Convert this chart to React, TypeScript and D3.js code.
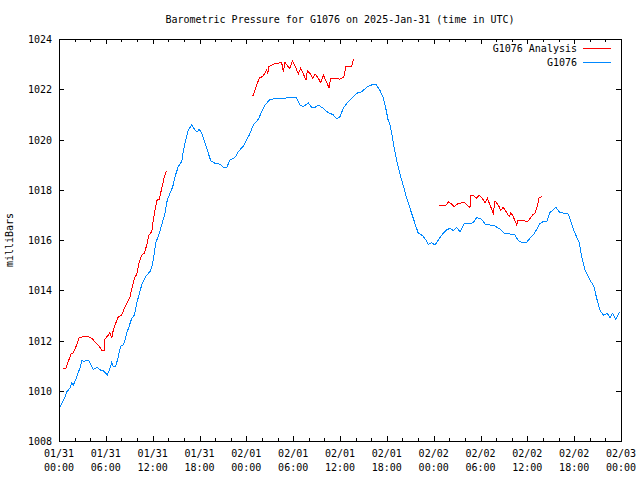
import React from "react";
import * as d3 from "d3";

const title = "Barometric Pressure for G1076 on 2025-Jan-31 (time in UTC)";
const yLabel = "milliBars";
const seriesNames = ["G1076 Analysis", "G1076"];
const xTickDates = ["01/31", "01/31", "01/31", "01/31", "02/01", "02/01", "02/01", "02/01", "02/02", "02/02", "02/02", "02/02", "02/03"];
const xTickTimes = ["00:00", "06:00", "12:00", "18:00", "00:00", "06:00", "12:00", "18:00", "00:00", "06:00", "12:00", "18:00", "00:00"];
const yTicks = [1008, 1010, 1012, 1014, 1016, 1018, 1020, 1022, 1024];

// hours since 2025-01-31 00:00 UTC
const blueHours = [
  0.13, 0.42, 0.77, 0.99, 1.41, 1.63, 1.83, 2.14, 2.4, 2.69, 2.91, 3.24, 3.55, 3.84, 4.19, 4.39, 4.61, 4.96, 5.25, 5.68,
  5.98, 6.19, 6.53, 6.75, 6.96, 7.26, 7.6, 7.9, 8.24, 8.46, 8.67, 8.97, 9.31, 9.65, 9.95, 10.25, 10.59, 10.8, 11.11, 11.44,
  11.66, 11.91, 12.17, 12.43, 12.72, 13.16, 13.58, 13.87, 14.22, 14.57, 14.86, 15.28, 15.72, 15.92, 16.23, 16.56, 17.0, 17.42, 17.68, 17.97,
  18.28, 18.7, 19.13, 19.43, 19.99, 20.63, 21.05, 21.48, 21.91, 22.55, 22.97, 23.61, 24.38, 24.89, 25.53, 25.97, 26.39, 26.94, 27.67, 28.31,
  28.95, 29.59, 30.36, 30.87, 31.3, 31.94, 32.37, 32.8, 33.22, 33.86, 34.3, 34.72, 35.14, 35.58, 36.0, 36.42, 36.86, 37.5, 38.14, 38.78,
  39.42, 40.06, 40.61, 41.12, 41.55, 41.89, 42.15, 42.41, 42.62, 42.92, 43.26, 43.6, 43.9, 44.2, 44.54, 44.97, 45.39, 45.74, 46.03, 46.59,
  47.02, 47.31, 47.75, 48.17, 48.59, 49.23, 49.67, 50.09, 50.51, 50.95, 51.37, 51.88, 52.65, 53.08, 53.51, 54.15, 54.7, 55.22, 55.86, 56.5,
  57.14, 57.78, 58.42, 58.84, 59.28, 59.92, 60.34, 60.76, 61.28, 61.62, 62.04, 62.48, 62.9, 63.67, 64.18, 64.82, 65.25, 65.68, 66.1, 66.66,
  66.96, 67.39, 68.03, 68.54, 68.88, 69.31, 69.73, 70.24, 70.59, 70.93, 71.32, 71.78,
];
const blueValues = [
  1009.37, 1009.52, 1009.76, 1009.96, 1010.1, 1010.32, 1010.23, 1010.43, 1010.69, 1010.89, 1011.2, 1011.16, 1011.22, 1011.2, 1010.96, 1010.83, 1010.89, 1010.93, 1010.83, 1010.8,
  1010.69, 1010.63, 1010.89, 1011.12, 1010.96, 1010.96, 1011.36, 1011.78, 1011.82, 1012.02, 1012.29, 1012.55, 1012.88, 1013.01, 1013.48, 1013.81, 1014.21, 1014.34, 1014.54, 1014.67,
  1014.74, 1014.95, 1015.4, 1015.93, 1016.13, 1016.6, 1017.06, 1017.59, 1017.86, 1018.12, 1018.52, 1018.92, 1019.12, 1019.51, 1019.98, 1020.38, 1020.58, 1020.38, 1020.3, 1020.41,
  1020.25, 1019.85, 1019.45, 1019.16, 1019.05, 1019.02, 1018.89, 1018.89, 1019.18, 1019.29, 1019.51, 1019.74, 1020.18, 1020.58, 1020.8, 1021.11, 1021.37, 1021.57, 1021.64, 1021.64,
  1021.64, 1021.68, 1021.68, 1021.37, 1021.31, 1021.46, 1021.28, 1021.28, 1021.37, 1021.24, 1021.11, 1021.04, 1020.98, 1020.82, 1020.91, 1021.24, 1021.44, 1021.64, 1021.84, 1021.9,
  1022.08, 1022.17, 1022.2, 1021.95, 1021.67, 1021.2, 1020.8, 1020.58, 1020.25, 1019.71, 1019.18, 1018.72, 1018.39, 1018.06, 1017.66, 1017.26, 1016.86, 1016.53, 1016.27, 1016.17,
  1016.0, 1015.83, 1015.89, 1015.8, 1016.0, 1016.27, 1016.4, 1016.47, 1016.37, 1016.5, 1016.33, 1016.64, 1016.64, 1016.69, 1016.9, 1016.82, 1016.6, 1016.6, 1016.56, 1016.43,
  1016.24, 1016.24, 1016.2, 1015.97, 1015.91, 1015.91, 1016.07, 1016.2, 1016.47, 1016.66, 1016.73, 1016.73, 1017.09, 1017.3, 1017.09, 1017.06, 1017.03, 1016.64, 1016.27, 1015.89,
  1015.34, 1014.81, 1014.41, 1014.14, 1013.68, 1013.21, 1013.01, 1013.08, 1012.92, 1013.08, 1012.84, 1013.12,
];

// analysis: three separate runs
const redHours1 = [
  0.55, 0.86, 1.19, 1.54, 1.83, 2.27, 2.56, 3.11, 3.75, 4.19, 4.61, 5.03, 5.47, 5.8, 5.89, 6.32, 6.53, 6.75, 6.96, 7.26,
  7.6, 8.03, 8.46, 8.8, 9.1, 9.39, 9.74, 9.95, 10.25, 10.59, 10.93, 11.24, 11.53, 11.88, 12.04, 12.3, 12.59, 12.85, 13.16, 13.45,
  13.71, 13.87,
];
const redValues1 = [
  1010.89, 1010.89, 1011.16, 1011.46, 1011.51, 1011.82, 1012.11, 1012.15, 1012.15, 1012.09, 1011.95, 1011.82, 1011.62, 1011.62, 1012.05, 1012.22, 1012.31, 1012.09, 1012.42, 1012.68,
  1012.95, 1013.01, 1013.35, 1013.54, 1013.74, 1014.14, 1014.54, 1014.61, 1015.07, 1015.4, 1015.47, 1015.8, 1016.2, 1016.33, 1016.7, 1017.19, 1017.62, 1017.62, 1018.06, 1018.45,
  1018.72, 1018.72,
];
const redHours2 = [
  24.69, 24.89, 25.24, 25.66, 26.17, 26.61, 26.74, 26.9, 27.45, 27.89, 28.53, 28.73, 28.95, 29.37, 29.59, 29.89, 30.23, 30.66, 30.96, 31.3,
  31.64, 31.81, 32.15, 32.5, 32.8, 33.22, 33.53, 33.86, 34.2, 34.59, 34.81, 35.36, 36.0, 36.51, 36.73, 37.5, 37.7, 37.83,
];
const redValues2 = [
  1021.77, 1021.77, 1022.1, 1022.44, 1022.53, 1022.77, 1022.61, 1022.9, 1023.0, 1023.03, 1023.06, 1022.7, 1023.06, 1022.9, 1022.83, 1023.14, 1022.93, 1022.61, 1022.83, 1022.61,
  1022.37, 1022.74, 1022.63, 1022.44, 1022.61, 1022.44, 1022.26, 1022.57, 1022.34, 1022.06, 1022.44, 1022.44, 1022.4, 1022.5, 1022.9, 1022.9, 1023.16, 1023.19,
];
const redHours3 = [
  48.72, 49.58, 49.87, 50.31, 50.6, 51.03, 51.59, 52.01, 52.43, 52.65, 52.78, 53.17, 53.51, 53.84, 54.15, 54.36, 54.57, 54.87, 55.22, 55.64,
  55.86, 56.28, 56.59, 56.92, 57.35, 57.69, 57.9, 58.2, 58.63, 58.8, 59.48, 60.04, 60.34, 60.68, 60.98, 61.28, 61.53, 61.91,
];
const redValues3 = [
  1017.38, 1017.38, 1017.52, 1017.43, 1017.33, 1017.43, 1017.48, 1017.48, 1017.35, 1017.3, 1017.78, 1017.75, 1017.67, 1017.78, 1017.7, 1017.59, 1017.48, 1017.66, 1017.39, 1017.06,
  1017.56, 1017.39, 1017.19, 1017.3, 1017.09, 1016.93, 1017.09, 1016.93, 1016.6, 1016.77, 1016.77, 1016.73, 1016.86, 1017.0, 1017.06, 1017.35, 1017.7, 1017.72,
];

const W = 640;
const H = 480;
const M = { left: 59, right: 621, top: 39, bottom: 441 };
const FONT = "'DejaVu Sans Mono', 'Liberation Mono', monospace";
const RED = "#ff0000";
const BLUE = "#0088ff";

export default function App() {
  const x = d3.scaleLinear().domain([0, 72]).range([M.left, M.right]);
  const y = d3.scaleLinear().domain([1008, 1024]).range([M.bottom, M.top]);
  const line = d3
    .line<[number, number]>()
    .x((d) => x(d[0]))
    .y((d) => y(d[1]));

  const zip = (h: number[], v: number[]) => h.map((t, i) => [t, v[i]] as [number, number]);
  const blue = zip(blueHours, blueValues);
  const reds = [zip(redHours1, redValues1), zip(redHours2, redValues2), zip(redHours3, redValues3)];

  const majorX = d3.range(0, 73, 6);
  const minorX = d3.range(0, 73, 2).filter((h) => h % 6 !== 0);

  return (
    <svg
      width={W}
      height={H}
      style={{ position: "absolute", left: 0, top: 0, background: "#fff" }}
      fontFamily={FONT}
      fontSize={10}
    >
      <rect x={0} y={0} width={W} height={H} fill="#fff" />
      <text x={340} y={23} textAnchor="middle">{title}</text>
      <text transform={`translate(13,${(M.top + M.bottom) / 2}) rotate(-90)`} textAnchor="middle">{yLabel}</text>

      <g shapeRendering="crispEdges" stroke="#000" strokeWidth={1}>
        {majorX.map((h) => (
          <g key={"mx" + h}>
            <line x1={Math.round(x(h)) + 0.5} x2={Math.round(x(h)) + 0.5} y1={M.bottom} y2={M.bottom - 5} />
            <line x1={Math.round(x(h)) + 0.5} x2={Math.round(x(h)) + 0.5} y1={M.top} y2={M.top + 5} />
          </g>
        ))}
        {minorX.map((h) => (
          <g key={"nx" + h}>
            <line x1={Math.round(x(h)) + 0.5} x2={Math.round(x(h)) + 0.5} y1={M.bottom} y2={M.bottom - 3} />
            <line x1={Math.round(x(h)) + 0.5} x2={Math.round(x(h)) + 0.5} y1={M.top} y2={M.top + 3} />
          </g>
        ))}
        {yTicks.map((v) => (
          <g key={"y" + v}>
            <line x1={M.left} x2={M.left + 5} y1={Math.round(y(v)) + 0.5} y2={Math.round(y(v)) + 0.5} />
            <line x1={M.right} x2={M.right - 5} y1={Math.round(y(v)) + 0.5} y2={Math.round(y(v)) + 0.5} />
          </g>
        ))}
        <rect x={M.left + 0.5} y={M.top + 0.5} width={M.right - M.left} height={M.bottom - M.top} fill="none" />
      </g>

      {yTicks.map((v) => (
        <text key={"yl" + v} x={52} y={y(v) + 4} textAnchor="end">{v}</text>
      ))}
      {majorX.map((h, i) => (
        <g key={"xl" + h}>
          <text x={x(h)} y={457} textAnchor="middle">{xTickDates[i]}</text>
          <text x={x(h)} y={471} textAnchor="middle">{xTickTimes[i]}</text>
        </g>
      ))}

      <g fill="none" strokeWidth={1} shapeRendering="crispEdges">
        <path d={line(blue) || ""} stroke={BLUE} />
        {reds.map((r, i) => (
          <path key={"r" + i} d={line(r) || ""} stroke={RED} />
        ))}
      </g>

      <text x={577} y={52} textAnchor="end">{seriesNames[0]}</text>
      <line x1={583} x2={611} y1={48.5} y2={48.5} stroke={RED} strokeWidth={1} shapeRendering="crispEdges" />
      <text x={577} y={66} textAnchor="end">{seriesNames[1]}</text>
      <line x1={583} x2={611} y1={62.5} y2={62.5} stroke={BLUE} strokeWidth={1} shapeRendering="crispEdges" />
    </svg>
  );
}
